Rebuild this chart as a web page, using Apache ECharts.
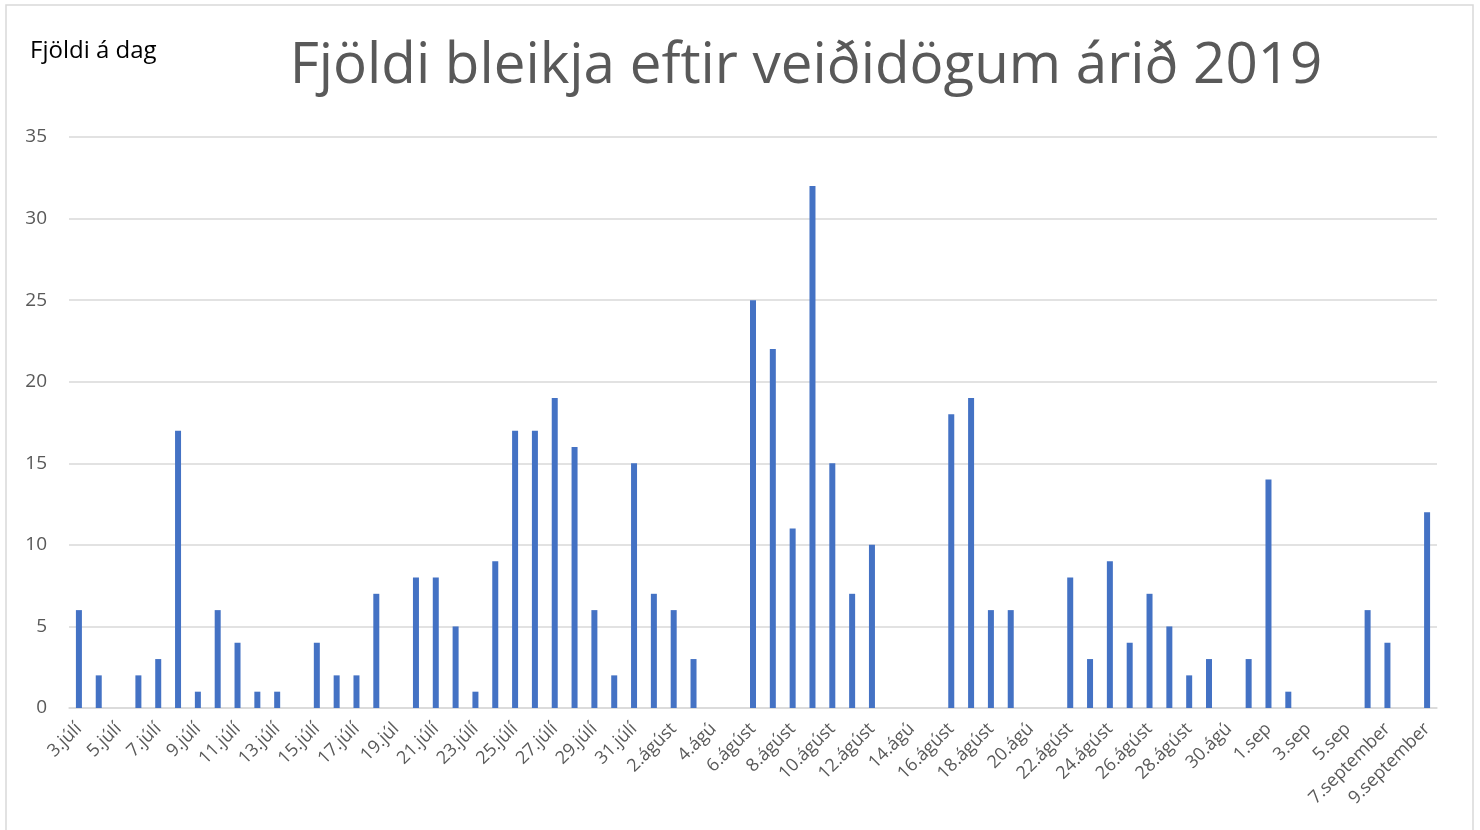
<!DOCTYPE html>
<html lang="is">
<head>
    <meta charset="UTF-8">
    <title>Fjöldi bleikja</title>
    <style>
        html, body { margin: 0; padding: 0; background: #fff; }
        #chart1 { width: 1480px; height: 830px; }
    </style>
</head>
<body>
<div id="chart1"></div>

<script src="https://cdn.jsdelivr.net/npm/echarts@6/dist/echarts.min.js"></script>
<script type="text/javascript">
    // dagar: 3. júlí - 9. september
    var days = [
        '3.júlí','4.júlí','5.júlí','6.júlí','7.júlí','8.júlí','9.júlí','10.júlí','11.júlí','12.júlí',
        '13.júlí','14.júlí','15.júlí','16.júlí','17.júlí','18.júlí','19.júl','20.júlí','21.júlí','22.júlí',
        '23.júlí','24.júlí','25.júlí','26.júlí','27.júlí','28.júlí','29.júlí','30.júlí','31.júlí',
        '1.ágúst','2.ágúst','3.ágúst','4.ágú','5.ágúst','6.ágúst','7.ágúst','8.ágúst','9.ágúst','10.ágúst',
        '11.ágúst','12.ágúst','13.ágúst','14.ágú','15.ágúst','16.ágúst','17.ágúst','18.ágúst','19.ágúst','20.ágú',
        '21.ágúst','22.ágúst','23.ágúst','24.ágúst','25.ágúst','26.ágúst','27.ágúst','28.ágúst','29.ágúst','30.ágú',
        '31.ágúst','1.sep','2.sep','3.sep','4.sep','5.sep','6.september','7.september','8.september','9.september'
    ];
    var counts = [
        6,2,0,2,3,17,1,6,4,1,
        1,0,4,2,2,7,0,8,8,5,
        1,9,17,17,19,16,6,2,15,
        7,6,3,0,0,25,22,11,32,15,
        7,10,0,0,0,18,19,6,6,0,
        0,8,3,9,4,7,5,2,3,0,
        3,14,1,0,0,0,6,4,0,12
    ];
    var yTicks = [0, 5, 10, 15, 20, 25, 30, 35];

    var myChart1 = echarts.init(document.getElementById('chart1'));
    var font = '"Open Sans", "Noto Sans", sans-serif';
    myChart1.setOption({
        animation: false,
        textStyle: { fontFamily: font },
        graphic: [{
            type: 'rect',
            shape: { x: 6, y: 5, width: 1467, height: 830 },
            style: { fill: 'none', stroke: '#d9d9d9', lineWidth: 1.5 },
            silent: true
        }, {
            type: 'text',
            left: 30, top: 39,
            style: { text: 'Fjöldi á dag', fontSize: 24, fill: '#000', fontFamily: font }
        }],
        title: {
            text: 'Fjöldi bleikja eftir veiðidögum árið 2019',
            left: 801, top: 33, textAlign: 'center',
            textStyle: { fontSize: 56.5, fontWeight: 'normal', color: '#595959', fontFamily: font }
        },
        grid: { left: 69, right: 43, top: 137, bottom: 122, containLabel: false },
        xAxis: {
            type: 'category',
            data: days,
            axisLine: { lineStyle: { color: '#d9d9d9', width: 1.5 } },
            axisTick: { show: false },
            axisLabel: {
                interval: 1, rotate: 45, color: '#595959', fontSize: 18, margin: 18
            }
        },
        yAxis: {
            type: 'value',
            min: yTicks[0], max: yTicks[yTicks.length - 1], interval: 5,
            axisLine: { show: false },
            axisTick: { show: false },
            splitLine: { lineStyle: { color: '#d9d9d9', width: 1.5 } },
            axisLabel: { color: '#595959', fontSize: 19, margin: 22 }
        },
        series: [{
            type: 'bar',
            data: counts,
            barWidth: 6,
            itemStyle: { color: '#4472c4' }
        }]
    });
</script>
</body>
</html>
